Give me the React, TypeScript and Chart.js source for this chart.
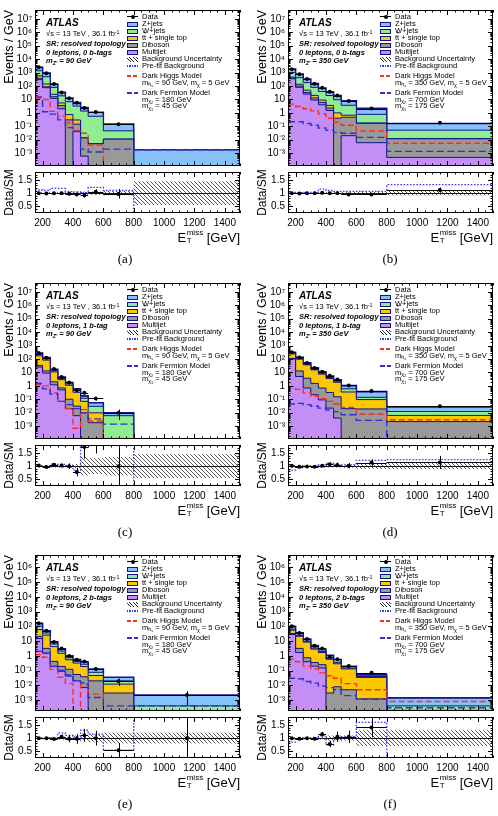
import React, { useEffect, useRef } from 'react';
import { Chart, registerables } from 'chart.js';
Chart.register(...registerables);

// ---------- shared axis definitions ----------
const binEdges = [150, 200, 250, 300, 350, 400, 450, 500, 600, 800, 1500];
const xTickValues = [200, 400, 600, 800, 1000, 1200, 1400];
const ratioTickValues = [0.5, 1, 1.5];

// ---------- (a) 0 leptons, 0 b-tags, mZ' = 90 GeV ----------
const aZjets = [1100, 420, 60, 15, 6, 2.7, 1.1, 0.55, 0.1, 0.0018];
const aWjets = [800, 350, 55, 13, 6, 2.9, 1.35, 0.55, 0.035, 0];
const aTtbar = [200, 55, 8, 2.0, 0.45, 0.15, 0, 0, 0, 0];
const aDiboson = [80, 12, 4, 1.5, 0.3, 0.1, 0.013, 0.005, 0.011, 0];
const aMultijet = [300, 75, 12, 2.0, 0, 0.045, 0.0006, 0, 0, 0];
const aData = [2480, 903, 139, 33.5, 12.5, 5.6, 2.27, 1.16, 0.142, null];
const aDarkHiggs = [12, 10, 1.3, 0.6, 0.18, 0.045, 0.03, 0.004, 0, 0];
const aDarkFermion = [15, 1.2, 0.8, 0.3, 0.08, 0.04, 0.002, 0.0012, 0.002, 0.0018];
const aPrefitRatio = [1.12, 1.1, 1.18, 1.18, 1.06, 1.05, 1.02, 1.22, 1.1, 0];
const aBkgUnc = [0.04, 0.04, 0.04, 0.05, 0.05, 0.05, 0.06, 0.06, 0.08, 0.45];

// ---------- (b) 0 leptons, 0 b-tags, mZ' = 350 GeV ----------
const bZjets = [800, 360, 150, 70, 33, 18, 10, 4.3, 1.4, 0.11];
const bWjets = [550, 280, 130, 60, 30, 16, 8.5, 3.0, 0.6, 0.039];
const bTtbar = [70, 35, 16, 7, 3, 1.3, 0.6, 0.2, 0.01, 0.0005];
const bDiboson = [40, 20, 8, 4, 2, 0.8, 0.4, 0.45, 0.16, 0.0113];
const bMultijet = [350, 80, 25, 9, 4, 1.5, 0, 0.02, 0.006, 0.00048];
const bData = [1810, 767, 329, 150, 73.4, 37.6, 19.5, 7.57, 2.07, 0.18];
const bDarkHiggs = [4.5, 3, 2, 1.4, 0.85, 0.4, 0.2, 0.12, 0.045, 0.0055];
const bDarkFermion = [0.22, 0.22, 0.16, 0.12, 0.075, 0.05, 0.035, 0.03, 0.015, 0.00135];
const bPrefitRatio = [1.03, 1.02, 1.03, 1.03, 1.15, 1.1, 1.07, 1.07, 1.07, 1.32];
const bBkgUnc = [0.03, 0.03, 0.03, 0.03, 0.04, 0.04, 0.04, 0.05, 0.06, 0.08];

// ---------- (c) 0 leptons, 1 b-tag, mZ' = 90 GeV ----------
const cZjets = [60, 25, 3.5, 0.9, 0.4, 0.15, 0.06, 0.025, 0.004, 0];
const cWjets = [45, 20, 2.5, 0.7, 0.3, 0.12, 0.05, 0.02, 0.006, 0];
const cTtbar = [140, 70, 9, 2.2, 1.0, 0.3, 0.06, 0.008, 0, 0];
const cDiboson = [8, 4, 0.8, 0.2, 0.08, 0.025, 0.01, 0.0018, 0, 0];
const cMultijet = [25, 9, 1.2, 0.5, 0.02, 0.006, 0, 0, 0, 0];
const cData = [284, 124, 17.9, 4.6, 1.8, 0.47, 0.31, 0.115, 0.01, null];
const cDarkHiggs = [1.2, 1.0, 0.3, 0.07, 0.02, 0.0007, 0.017, 0.0024, 0, 0];
const cDarkFermion = [1.5, 0.6, 0.25, 0.07, 0.04, 0.02, 0.01, 0.0035, 0.0014, 0];
const cPrefitRatio = [1.0, 0.98, 1.08, 1.07, 1.02, 0.85, 2.5, 2.5, 2.5, 0];
const cBkgUnc = [0.04, 0.04, 0.05, 0.05, 0.06, 0.08, 0.35, 0.3, 0.35, 0.45];

// ---------- (d) 0 leptons, 1 b-tag, mZ' = 350 GeV ----------
const dZjets = [48, 22, 9.3, 3.9, 2.1, 1.1, 0.6, 0.45, 0.23, 0.014];
const dWjets = [30, 15, 6, 2.6, 1.4, 0.7, 0.35, 0.25, 0.045, 0.006];
const dTtbar = [130, 85, 33, 14, 6.8, 3.2, 1.7, 0.33, 0.076, 0.0041];
const dDiboson = [12, 8, 3, 1.3, 0.6, 0.3, 0.15, 0.02, 0.019, 0.0022];
const dMultijet = [100, 5, 0.7, 0.22, 0.09, 0.022, 0.004, 0, 0, 0];
const dData = [326, 132, 51.5, 21.6, 11.2, 5.7, 2.94, 1.07, 0.42, 0.03];
const dDarkHiggs = [0.9, 0.55, 0.3, 0.17, 0.11, 0.07, 0.045, 0.025, 0.008, 0.003];
const dDarkFermion = [0.045, 0.05, 0.04, 0.03, 0.022, 0.016, 0.012, 0.007, 0.0027, 0.00012];
const dPrefitRatio = [0.85, 0.95, 1.0, 1.0, 1.05, 1.1, 1.05, 1.05, 1.22, 1.25];
const dBkgUnc = [0.05, 0.04, 0.04, 0.04, 0.05, 0.05, 0.05, 0.06, 0.1, 0.12];

// ---------- (e) 0 leptons, 2 b-tags, mZ' = 90 GeV ----------
const eZjets = [60, 15, 2.8, 0.9, 0.26, 0.13, 0.11, 0.05, 0.015, 0.0018];
const eWjets = [40, 10, 2, 0.6, 0.2, 0.1, 0.08, 0.03, 0.008, 0.0004];
const eTtbar = [40, 22, 3.8, 1.3, 0.42, 0.27, 0.15, 0.026, 0.009, 0];
const eDiboson = [6, 1.7, 0.23, 0.1, 0.08, 0.034, 0.031, 0.02, 0.003, 0];
const eMultijet = [15, 1.5, 0.19, 0.09, 0.042, 0.02, 0.007, 0, 0, 0];
const eData = [161, 50.2, 8.75, 3.14, 0.98, 0.54, 0.42, 0.126, 0.019, 0.0022];
const eDarkHiggs = [1.2, 0.8, 0.12, 0.035, 0.013, 0, 0.012, 0.0025, 0, 0];
const eDarkFermion = [2, 1.5, 0.2, 0.1, 0.05, 0.02, 0.015, 0.0015, 0.0004, 0.0004];
const ePrefitRatio = [1.0, 1.0, 1.02, 1.2, 1.1, 1.05, 1.3, 1.15, 0.55, 2.5];
const eBkgUnc = [0.04, 0.04, 0.05, 0.05, 0.06, 0.1, 0.12, 0.15, 0.2, 0.2];

// ---------- (f) 0 leptons, 2 b-tags, mZ' = 350 GeV ----------
const fZjets = [35, 12, 4.2, 1.6, 0.8, 0.4, 0.2, 0.045, 0.012, 0.001];
const fWjets = [10, 3, 1.2, 0.5, 0.25, 0.12, 0.07, 0.02, 0.005, 0.0002];
const fTtbar = [22, 18, 7.8, 2.5, 1.45, 0.577, 0.282, 0.125, 0.033, 0.00015];
const fDiboson = [5, 1.5, 0.35, 0.15, 0.1, 0.003, 0.008, 0.005, 0.0012, 0.00005];
const fMultijet = [28, 1.7, 0.4, 0.2, 0.15, 0, 0, 0, 0, 0];
const fData = [100, 35.5, 13.95, 4.85, 3.16, 0.86, 0.59, 0.205, 0.072, null];
const fDarkHiggs = [0.6, 0.4, 0.2, 0.13, 0.07, 0.045, 0.03, 0.013, 0.005, 0.0008];
const fDarkFermion = [0.03, 0.028, 0.018, 0.014, 0.009, 0.007, 0.005, 0.002, 0.0011, 0.0003];
const fPrefitRatio = [0.85, 0.98, 1.0, 1.0, 1.1, 0.75, 0.95, 1.05, 1.6, 0];
const fBkgUnc = [0.04, 0.04, 0.04, 0.05, 0.06, 0.1, 0.1, 0.1, 0.3, 0.3];

// ---------- labels ----------
const captions = ['(a)', '(b)', '(c)', '(d)', '(e)', '(f)'];
const btagLabels = ['0 b-tags', '0 b-tags', '1 b-tag', '1 b-tag', '2 b-tags', '2 b-tags'];
const mzpLabels = ['90', '350', '90', '350', '90', '350'];
const mhsLabels = ['90', '350', '90', '350', '90', '350'];
const mChi2Labels = ['180', '700', '180', '700', '180', '700'];
const mChi1Labels = ['45', '175', '45', '175', '45', '175'];
const yRangeByRow = [[1.1e-4, 4.6e7], [1.1e-4, 4.6e7], [1.8e-4, 7e6]];

// ---------- styling ----------
const FONT = "'Liberation Sans', Arial, Helvetica, sans-serif";
const SERIF = "'Liberation Serif', 'DejaVu Serif', serif";
const NAVY = '#12128c';
const C_Z = '#86c1f7';
const C_W = '#90ee90';
const C_TT = '#fcc800';
const C_VV = '#999999';
const C_MJ = '#c48ef7';
const C_RED = '#ff2b2b';
const C_DF = '#3030d0';
const C_PRE = '#3a3aff';
const COL_X = [0, 253];
const ROW_Y = [0, 273, 545];
const CAP_X = [125, 390];

const panels = [
  { z: aZjets, w: aWjets, tt: aTtbar, vv: aDiboson, mj: aMultijet, data: aData, dh: aDarkHiggs, df: aDarkFermion, pre: aPrefitRatio, unc: aBkgUnc },
  { z: bZjets, w: bWjets, tt: bTtbar, vv: bDiboson, mj: bMultijet, data: bData, dh: bDarkHiggs, df: bDarkFermion, pre: bPrefitRatio, unc: bBkgUnc },
  { z: cZjets, w: cWjets, tt: cTtbar, vv: cDiboson, mj: cMultijet, data: cData, dh: cDarkHiggs, df: cDarkFermion, pre: cPrefitRatio, unc: cBkgUnc },
  { z: dZjets, w: dWjets, tt: dTtbar, vv: dDiboson, mj: dMultijet, data: dData, dh: dDarkHiggs, df: dDarkFermion, pre: dPrefitRatio, unc: dBkgUnc },
  { z: eZjets, w: eWjets, tt: eTtbar, vv: eDiboson, mj: eMultijet, data: eData, dh: eDarkHiggs, df: eDarkFermion, pre: ePrefitRatio, unc: eBkgUnc },
  { z: fZjets, w: fWjets, tt: fTtbar, vv: fDiboson, mj: fMultijet, data: fData, dh: fDarkHiggs, df: fDarkFermion, pre: fPrefitRatio, unc: fBkgUnc },
];

const widths = binEdges.slice(1).map((e, i) => e - binEdges[i]);
const centers = binEdges.slice(1).map((e, i) => (e + binEdges[i]) / 2);
const LOG_FLOOR = 1e-9;

const stepPts = (vals: number[], floor = 0) =>
  binEdges.map((e, i) => ({ x: e, y: Math.max(vals[Math.min(i, vals.length - 1)], floor) }));

const SUP: Record<string, string> = { '-': '\u207b', '0': '\u2070', '1': '\u00b9', '2': '\u00b2', '3': '\u00b3', '4': '\u2074', '5': '\u2075', '6': '\u2076', '7': '\u2077', '8': '\u2078', '9': '\u2079' };
const fmtLog = (v: number) => {
  const e = Math.round(Math.log10(v));
  if (e === 0) return '1';
  if (e === 1) return '10';
  return '10' + String(e).split('').map((c) => SUP[c]).join('');
};

let hatchCache: any = null;
function hatch() {
  if (hatchCache) return hatchCache;
  const c = document.createElement('canvas');
  c.width = 4; c.height = 4;
  const g = c.getContext('2d')!;
  g.strokeStyle = '#2a2a2a';
  g.lineWidth = 0.8;
  g.beginPath();
  g.moveTo(0, 0); g.lineTo(4, 4);
  g.moveTo(-1, 3); g.lineTo(1, 5);
  g.moveTo(3, -1); g.lineTo(5, 1);
  g.stroke();
  hatchCache = g.createPattern(c, 'repeat');
  return hatchCache;
}

function xMinorTicks() {
  const out: number[] = [];
  for (let v = 150; v <= 1500; v += 50) if (!xTickValues.includes(v)) out.push(v);
  return out;
}

function drawFrame(chart: any, yMajor: number[], yMinor: number[], majLen: number, minLen: number) {
  const { ctx, chartArea: a } = chart;
  const xs = chart.scales.x, ys = chart.scales.y;
  ctx.save();
  ctx.strokeStyle = '#000';
  ctx.lineWidth = 1;
  ctx.beginPath();
  const vx = (v: number, len: number) => {
    const p = Math.round(xs.getPixelForValue(v)) + 0.5;
    ctx.moveTo(p, a.bottom); ctx.lineTo(p, a.bottom - len);
    ctx.moveTo(p, a.top); ctx.lineTo(p, a.top + len);
  };
  const hy = (v: number, len: number) => {
    const p = Math.round(ys.getPixelForValue(v)) + 0.5;
    ctx.moveTo(a.left, p); ctx.lineTo(a.left + len, p);
    ctx.moveTo(a.right, p); ctx.lineTo(a.right - len, p);
  };
  xTickValues.forEach((v) => vx(v, majLen));
  xMinorTicks().forEach((v) => vx(v, minLen));
  yMajor.forEach((v) => hy(v, majLen));
  yMinor.forEach((v) => hy(v, minLen));
  ctx.stroke();
  ctx.strokeRect(Math.round(a.left) + 0.5, Math.round(a.top) + 0.5, Math.round(a.right - a.left) - 1, Math.round(a.bottom - a.top) - 1);
  ctx.restore();
}

function drawErrors(chart: any, vals: (number | null)[], errs: number[]) {
  const { ctx, chartArea: a } = chart;
  const xs = chart.scales.x, ys = chart.scales.y;
  ctx.save();
  ctx.beginPath();
  ctx.rect(a.left, a.top, a.right - a.left, a.bottom - a.top);
  ctx.clip();
  ctx.strokeStyle = '#000';
  ctx.lineWidth = 1;
  ctx.beginPath();
  vals.forEach((v, i) => {
    if (v == null) return;
    const px = Math.round(xs.getPixelForValue(centers[i])) + 0.5;
    const py = ys.getPixelForValue(v);
    const lo = v - errs[i];
    const pLo = lo > 0 || ys.type !== 'logarithmic' ? ys.getPixelForValue(lo) : a.bottom + 5;
    const pHi = ys.getPixelForValue(v + errs[i]);
    ctx.moveTo(px, pLo); ctx.lineTo(px, pHi);
    ctx.moveTo(xs.getPixelForValue(binEdges[i]), Math.round(py) + 0.5);
    ctx.lineTo(xs.getPixelForValue(binEdges[i + 1]), Math.round(py) + 0.5);
  });
  ctx.stroke();
  ctx.restore();
}

function buildMain(p: any, row: number) {
  const [yMin, yMax] = yRangeByRow[row];
  const c1 = p.mj.map((v: number) => v);
  const c2 = c1.map((v: number, i: number) => v + p.vv[i]);
  const c3 = c2.map((v: number, i: number) => v + p.tt[i]);
  const c4 = c3.map((v: number, i: number) => v + p.w[i]);
  const c5 = c4.map((v: number, i: number) => v + p.z[i]);
  const decades: number[] = [];
  const minors: number[] = [];
  for (let e = -4; e <= 8; e++) {
    const d = Math.pow(10, e);
    if (d >= yMin * 1.0001 && d <= yMax) decades.push(d);
    for (let m = 2; m <= 9; m++) { const v = m * d; if (v > yMin && v < yMax) minors.push(v); }
  }
  const errs = p.data.map((v: number | null, i: number) => (v == null ? 0 : Math.sqrt(v * widths[i]) / widths[i]));
  const layer = (vals: number[], color: string, bw: number) => ({
    data: stepPts(vals, LOG_FLOOR), borderColor: NAVY, borderWidth: bw, backgroundColor: color,
    fill: 'start', stepped: true, pointRadius: 0,
  });
  return {
    type: 'line',
    data: {
      datasets: [
        { data: centers.map((x, i) => ({ x, y: p.data[i] })), showLine: false, pointRadius: 2, pointBackgroundColor: '#000', pointBorderColor: '#000', pointBorderWidth: 0, borderWidth: 0 },
        { data: stepPts(p.df, LOG_FLOOR), borderColor: C_DF, borderWidth: 1.4, borderDash: [7, 3.5], stepped: true, pointRadius: 0, fill: false },
        { data: stepPts(p.dh, LOG_FLOOR), borderColor: C_RED, borderWidth: 1.4, borderDash: [6, 3], stepped: true, pointRadius: 0, fill: false },
        layer(c1, C_MJ, 1),
        layer(c2, C_VV, 1),
        layer(c3, C_TT, 1),
        layer(c4, C_W, 1),
        layer(c5, C_Z, 1.6),
      ],
    },
    options: {
      animation: false, responsive: false, maintainAspectRatio: false, devicePixelRatio: 1, events: [],
      layout: { padding: { top: 10, right: 7, bottom: 8, left: 0 } },
      plugins: { legend: { display: false }, tooltip: { enabled: false } },
      elements: { line: { tension: 0 } },
      scales: {
        x: { type: 'linear', min: 150, max: 1500, display: false },
        y: {
          type: 'logarithmic', min: yMin, max: yMax,
          afterBuildTicks: (s: any) => { s.ticks = decades.map((v) => ({ value: v })); },
          afterFit: (s: any) => { s.width = 35; },
          grid: { display: false, drawTicks: false }, border: { display: false },
          ticks: { callback: (v: any) => fmtLog(Number(v)), font: { size: 10, family: FONT }, color: '#000', padding: 3, autoSkip: false },
          title: { display: true, text: 'Events / GeV', align: 'end', font: { size: 12.5, family: FONT }, color: '#000', padding: { top: 2, bottom: 0 } },
        },
      },
    },
    plugins: [{
      id: 'frameMain',
      afterDatasetsDraw: (chart: any) => {
        drawErrors(chart, p.data, errs);
        drawFrame(chart, decades, minors, 5, 2.5);
      },
    }],
  };
}

function buildRatio(p: any) {
  const total = p.z.map((v: number, i: number) => v + p.w[i] + p.tt[i] + p.vv[i] + p.mj[i]);
  const ratio = p.data.map((v: number | null, i: number) => (v == null || total[i] <= 0 ? null : v / total[i]));
  const rErr = p.data.map((v: number | null, i: number) => (v == null || ratio[i] == null ? 0 : ratio[i] / Math.sqrt(v * widths[i])));
  const up = p.unc.map((u: number) => 1 + u);
  const dn = p.unc.map((u: number) => 1 - u);
  const minors: number[] = [];
  for (let k = 3; k <= 17; k++) { const v = k / 10; if (!ratioTickValues.some((t) => Math.abs(t - v) < 1e-6)) minors.push(v); }
  return {
    type: 'line',
    data: {
      datasets: [
        { data: centers.map((x, i) => ({ x, y: ratio[i] })), showLine: false, pointRadius: 2, pointBackgroundColor: '#000', pointBorderColor: '#000', pointBorderWidth: 0, borderWidth: 0 },
        { data: stepPts(p.pre), borderColor: C_PRE, borderWidth: 1.3, borderDash: [1.6, 1.6], stepped: true, pointRadius: 0, fill: false },
        { data: stepPts(up), borderWidth: 0, borderColor: 'rgba(0,0,0,0)', backgroundColor: hatch(), fill: '+1', stepped: true, pointRadius: 0 },
        { data: stepPts(dn), borderWidth: 0, borderColor: 'rgba(0,0,0,0)', fill: false, stepped: true, pointRadius: 0 },
      ],
    },
    options: {
      animation: false, responsive: false, maintainAspectRatio: false, devicePixelRatio: 1, events: [],
      layout: { padding: { top: 8, right: 7, bottom: 0, left: 0 } },
      plugins: { legend: { display: false }, tooltip: { enabled: false } },
      elements: { line: { tension: 0 } },
      scales: {
        x: {
          type: 'linear', min: 150, max: 1500,
          afterBuildTicks: (s: any) => { s.ticks = xTickValues.map((v) => ({ value: v })); },
          afterFit: (s: any) => { s.height = 18; },
          grid: { display: false, drawTicks: false }, border: { display: false },
          ticks: { callback: (v: any) => String(v), font: { size: 10, family: FONT }, color: '#000', padding: 4, maxRotation: 0, autoSkip: false },
        },
        y: {
          type: 'linear', min: 0.25, max: 1.8,
          afterBuildTicks: (s: any) => { s.ticks = ratioTickValues.map((v) => ({ value: v })); },
          afterFit: (s: any) => { s.width = 35; },
          grid: { display: false, drawTicks: false }, border: { display: false },
          ticks: { callback: (v: any) => String(v), font: { size: 10, family: FONT }, color: '#000', padding: 3, autoSkip: false },
          title: { display: true, text: 'Data/SM', align: 'center', font: { size: 12, family: FONT }, color: '#000', padding: { top: 2, bottom: 0 } },
        },
      },
    },
    plugins: [{
      id: 'frameRatio',
      afterDatasetsDraw: (chart: any) => {
        const { ctx, chartArea: a } = chart;
        const py = Math.round(chart.scales.y.getPixelForValue(1)) + 0.5;
        ctx.save();
        ctx.strokeStyle = '#000'; ctx.lineWidth = 0.9;
        ctx.beginPath(); ctx.moveTo(a.left, py); ctx.lineTo(a.right, py); ctx.stroke();
        ctx.restore();
        drawErrors(chart, ratio, rErr);
        drawFrame(chart, ratioTickValues, minors, 5, 2.5);
      },
    }],
  };
}

const T = ({ x, y, children, style }: any) => (
  <div style={{ position: 'absolute', left: x, top: y, transform: 'translateY(-50%)', whiteSpace: 'nowrap', fontFamily: FONT, fontSize: 7.5, lineHeight: 1, color: '#000', ...style }}>{children}</div>
);
const Sub = ({ children }: any) => <sub style={{ fontSize: '72%', verticalAlign: '-0.3em', lineHeight: 0 }}>{children}</sub>;
const Sup = ({ children }: any) => <sup style={{ fontSize: '72%', verticalAlign: '0.45em', lineHeight: 0 }}>{children}</sup>;

function Panel({ idx }: { idx: number }) {
  const mainRef = useRef<HTMLCanvasElement>(null);
  const ratioRef = useRef<HTMLCanvasElement>(null);
  const col = idx % 2, row = Math.floor(idx / 2);
  const px = COL_X[col], py = ROW_Y[row];
  const p = panels[idx];
  useEffect(() => {
    const m = new Chart(mainRef.current as any, buildMain(p, row) as any);
    const r = new Chart(ratioRef.current as any, buildRatio(p) as any);
    return () => { m.destroy(); r.destroy(); };
  }, [idx]);
  const fx = px + 35, fy = py + 10;
  const sx = fx + 92, tx = fx + 107;
  const box = (y: number, color: string) => (
    <div style={{ position: 'absolute', left: sx, top: fy + y - 2.5, width: 11, height: 5, background: color, border: `1px solid ${NAVY}`, boxSizing: 'border-box' }} />
  );
  const line = (y: number, color: string, dash: number, gap: number) => (
    <div style={{ position: 'absolute', left: sx, top: Math.round(fy + y - 1), width: 11, height: 2, background: `repeating-linear-gradient(90deg, ${color} 0 ${dash}px, transparent ${dash}px ${dash + gap}px)` }} />
  );
  return (
    <>
      <canvas ref={mainRef} width={247} height={175} style={{ position: 'absolute', left: px, top: py, width: 247, height: 175 }} />
      <canvas ref={ratioRef} width={247} height={68} style={{ position: 'absolute', left: px, top: py + 163, width: 247, height: 68 }} />
      {/* annotations */}
      <T x={fx + 11} y={fy + 13} style={{ fontSize: 10, fontWeight: 'bold', fontStyle: 'italic' }}>ATLAS</T>
      <T x={fx + 11} y={fy + 23.5}>{'\u221a'}s = 13 TeV , 36.1 fb<Sup>-1</Sup></T>
      <T x={fx + 11} y={fy + 33.5} style={{ fontWeight: 'bold', fontStyle: 'italic' }}>SR: resolved topology</T>
      <T x={fx + 11} y={fy + 42.5} style={{ fontWeight: 'bold', fontStyle: 'italic' }}>0 leptons, {btagLabels[idx]}</T>
      <T x={fx + 11} y={fy + 50.5} style={{ fontWeight: 'bold', fontStyle: 'italic' }}>m<Sub>Z'</Sub> = {mzpLabels[idx]} GeV</T>
      {/* legend */}
      <div style={{ position: 'absolute', left: sx, top: fy + 6, width: 11, height: 1, background: '#000' }} />
      <div style={{ position: 'absolute', left: sx + 3.5, top: fy + 4.5, width: 4, height: 4, borderRadius: 2, background: '#000' }} />
      <T x={tx} y={fy + 6.5}>Data</T>
      {box(14, C_Z)}<T x={tx} y={fy + 14}>Z+jets</T>
      {box(21, C_W)}<T x={tx} y={fy + 21}>W+jets</T>
      {box(28, C_TT)}<T x={tx} y={fy + 28}>t<span style={{ textDecoration: 'overline' }}>t</span> + single top</T>
      {box(35, C_VV)}<T x={tx} y={fy + 35}>Diboson</T>
      {box(42, C_MJ)}<T x={tx} y={fy + 42}>Multijet</T>
      <div style={{ position: 'absolute', left: sx, top: fy + 49 - 2.5, width: 11, height: 5, background: 'repeating-linear-gradient(45deg, #222 0 0.7px, #fff 0.7px 2.4px)' }} />
      <T x={tx} y={fy + 49}>Background Uncertainty</T>
      {line(56, C_PRE, 1.3, 1.2)}<T x={tx} y={fy + 56}>Pre-fit Background</T>
      {line(65.5, C_RED, 4, 2)}<T x={tx} y={fy + 65.5}>Dark Higgs Model</T>
      <T x={tx} y={fy + 72.5}>m<Sub>h<Sub>s</Sub></Sub> = {mhsLabels[idx]} GeV, m<Sub>{'\u03c7'}</Sub> = 5 GeV</T>
      {line(83, C_DF, 5, 2)}<T x={tx} y={fy + 83}>Dark Fermion Model</T>
      <T x={tx} y={fy + 89.5}>m<Sub>{'\u03c7'}<Sub>2</Sub></Sub> = {mChi2Labels[idx]} GeV</T>
      <T x={tx} y={fy + 96}>m<Sub>{'\u03c7'}<Sub>1</Sub></Sub> = {mChi1Labels[idx]} GeV</T>
      {/* x title */}
      <div style={{ position: 'absolute', right: 498 - (fx + 205), top: py + 237, transform: 'translateY(-50%)', fontFamily: FONT, fontSize: 13, whiteSpace: 'nowrap', display: 'flex', alignItems: 'center', color: '#000' }}>
        <span>E</span>
        <span style={{ display: 'inline-flex', flexDirection: 'column', fontSize: 8, lineHeight: '8px', marginLeft: 0.5 }}><span>miss</span><span>T</span></span>
        <span>&nbsp;[GeV]</span>
      </div>
      {/* caption */}
      <div style={{ position: 'absolute', left: CAP_X[col], top: py + 259, transform: 'translate(-50%, -50%)', fontFamily: SERIF, fontSize: 13, color: '#000', whiteSpace: 'nowrap' }}>{captions[idx]}</div>
    </>
  );
}

export default function App() {
  return (
    <div style={{ position: 'absolute', left: 0, top: 0, width: 498, height: 816, background: '#fff', overflow: 'hidden' }}>
      {[0, 1, 2, 3, 4, 5].map((i) => <Panel key={i} idx={i} />)}
    </div>
  );
}
